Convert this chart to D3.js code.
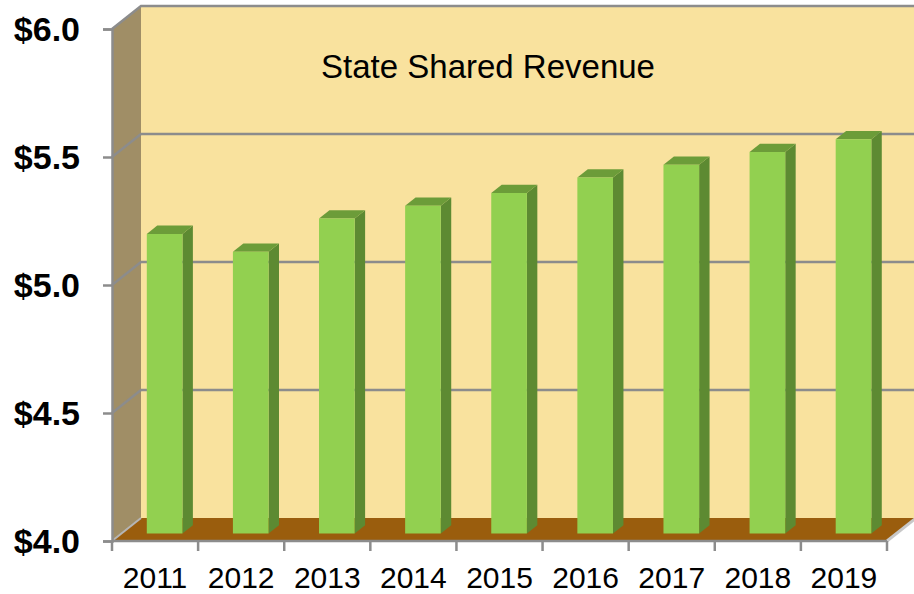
<!DOCTYPE html>
<html>
<head>
<meta charset="utf-8">
<script src="https://cdn.jsdelivr.net/npm/d3@7"></script>
<style>
  body { margin: 0; background: #fff; }
  text { font-family: "Liberation Sans", Arial, sans-serif; }
</style>
</head>
<body>
<svg id="chart" width="914" height="594"></svg>
<script>
var years = ["2011", "2012", "2013", "2014", "2015", "2016", "2017", "2018", "2019"];
var revenue = [5.17, 5.10, 5.23, 5.28, 5.33, 5.39, 5.44, 5.49, 5.54];
var yTicks = [4.0, 4.5, 5.0, 5.5, 6.0];
var title = "State Shared Revenue";

var svg = d3.select("#chart"),
    plotLeft = 112, plotRight = 887, plotTop = 29, plotBottom = 541,
    depth = {x: 29, y: -23};   // 3d depth of the plot box

var y = d3.scaleLinear().domain([4, 6]).range([plotBottom, plotTop]);
var xCat = d3.scaleBand().domain(years).range([plotLeft, plotRight]);
var xBar = d3.scaleBand().domain(years).range([plotLeft, plotRight])
    .paddingInner(0.586).paddingOuter(0.293);

// point in the box: front x, value, depth fraction
function pt(x, v, f) { return [x + f * depth.x, y(v) + f * depth.y]; }
function poly(points) { return points.map(function(p) { return p.join(","); }).join(" "); }

var gray = "#8c8c8c";

// back wall
svg.append("polygon")
    .attr("points", poly([pt(plotLeft, 6, 1), pt(plotRight + 40, 6, 1), pt(plotRight + 40, 4, 1), pt(plotLeft, 4, 1)]))
    .attr("fill", "#f9e29e");

// side wall
svg.append("polygon")
    .attr("points", poly([pt(plotLeft, 6, 0), pt(plotLeft, 6, 1), pt(plotLeft, 4, 1), pt(plotLeft, 4, 0)]))
    .attr("fill", "#a08e66");

// floor
svg.append("polygon")
    .attr("points", poly([pt(plotLeft, 4, 0), pt(plotLeft, 4, 1), pt(plotRight, 4, 1), pt(plotRight, 4, 0)]))
    .attr("fill", "#9a5d0d");

// gridlines on back wall and side wall
var grid = svg.append("g");
yTicks.filter(function(v) { return v > 4; }).forEach(function(v) {
  grid.append("polyline")
      .attr("points", poly([pt(plotLeft, v, 0), pt(plotLeft, v, 1), pt(plotRight + 40, v, 1)]))
      .attr("fill", "none").attr("stroke", gray).attr("stroke-width", 2.5);
});
grid.append("line")
    .attr("x1", pt(plotLeft, 4, 0)[0]).attr("y1", pt(plotLeft, 4, 0)[1])
    .attr("x2", pt(plotLeft, 4, 1)[0]).attr("y2", pt(plotLeft, 4, 1)[1])
    .attr("stroke", "#b5b5b5").attr("stroke-width", 2);
grid.append("line")
    .attr("x1", pt(plotRight, 4, 0)[0]).attr("y1", pt(plotRight, 4, 0)[1])
    .attr("x2", pt(plotRight, 4, 1)[0]).attr("y2", pt(plotRight, 4, 1)[1])
    .attr("stroke", "#c8c8c8").attr("stroke-width", 3);

// bars
var f1 = 0.33, f2 = 0.69, w = xBar.bandwidth();
var bars = svg.append("g").selectAll("g")
    .data(years.map(function(d, i) { return {year: d, value: revenue[i]}; }))
    .enter().append("g");

bars.append("polygon")   // side
    .attr("points", function(d) {
      var x = xBar(d.year) + w;
      return poly([pt(x, 4, f1), pt(x, 4, f2), pt(x, d.value, f2), pt(x, d.value, f1)]);
    })
    .attr("fill", "#5d8a32");

bars.append("polygon")   // top
    .attr("points", function(d) {
      var x = xBar(d.year);
      return poly([pt(x, d.value, f1), pt(x, d.value, f2), pt(x + w, d.value, f2), pt(x + w, d.value, f1)]);
    })
    .attr("fill", "#6c9c39");

bars.append("polygon")   // front
    .attr("points", function(d) {
      var x = xBar(d.year);
      return poly([pt(x, 4, f1), pt(x + w, 4, f1), pt(x + w, d.value, f1), pt(x, d.value, f1)]);
    })
    .attr("fill", "#92d050");

// y axis
var yAxis = svg.append("g")
    .attr("transform", "translate(" + plotLeft + ",0)")
    .call(d3.axisLeft(y).tickValues(yTicks).tickFormat(d3.format("$.1f"))
      .tickSize(9).tickPadding(23));
yAxis.select(".domain").attr("stroke", gray).attr("stroke-width", 2.5);
yAxis.selectAll(".tick line").attr("stroke", gray).attr("stroke-width", 2.5);
yAxis.selectAll(".tick text")
    .attr("font-family", "'Liberation Sans', Arial, sans-serif")
    .attr("font-size", 34).attr("font-weight", "bold").attr("fill", "#000")
    .attr("dy", "0.35em");

// x axis
var xAxis = svg.append("g");
xAxis.append("line")
    .attr("x1", plotLeft).attr("x2", plotRight).attr("y1", plotBottom).attr("y2", plotBottom)
    .attr("stroke", gray).attr("stroke-width", 2.5);
xAxis.selectAll(".xtick")
    .data(years.map(function(d) { return xCat(d); }).concat([plotRight]))
    .enter().append("line")
    .attr("x1", function(d) { return d; }).attr("x2", function(d) { return d; })
    .attr("y1", plotBottom).attr("y2", plotBottom + 10)
    .attr("stroke", gray).attr("stroke-width", 2.5);
xAxis.selectAll(".xlabel")
    .data(years)
    .enter().append("text")
    .attr("x", function(d) { return xCat(d) + xCat.bandwidth() / 2; })
    .attr("y", 588)
    .attr("text-anchor", "middle")
    .attr("font-size", 30)
    .attr("fill", "#000")
    .text(function(d) { return d; });

// title
svg.append("text")
    .attr("x", 488).attr("y", 78)
    .attr("text-anchor", "middle")
    .attr("font-size", 33)
    .attr("fill", "#000")
    .text(title);
</script>
</body>
</html>
